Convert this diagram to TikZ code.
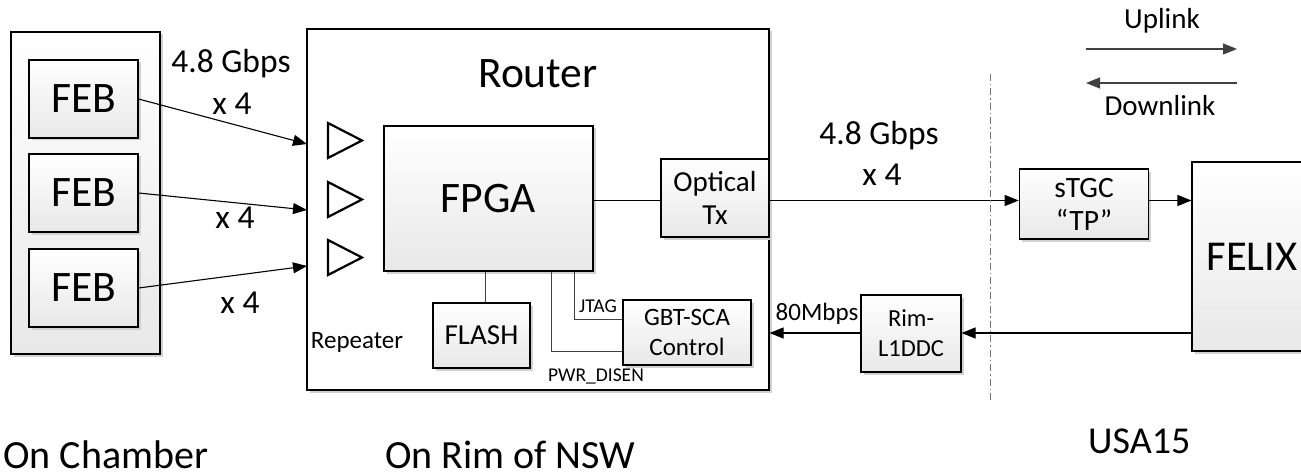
\documentclass[tikz,border=0pt]{standalone}
\usepackage{fontspec}
\setmainfont{Carlito}
\usetikzlibrary{arrows.meta,shadows}
\newcommand\fsz[2]{\fontsize{#1}{#2}\selectfont}
\begin{document}
\begin{tikzpicture}[x=1pt,y=-1pt,
  shad/.style={drop shadow={shadow xshift=2.5pt,shadow yshift=-2.5pt,fill=black!18,opacity=1}},
  blk/.style={draw=black,line width=1.1pt,top color=white,bottom color=black!9,shad,inner sep=0pt,align=center},
  plain/.style={draw=black,line width=1.1pt,fill=white,shad,inner sep=0pt},
  lbl/.style={inner sep=0pt,anchor=base},
  arr/.style={line width=1.1pt,-{Triangle[length=14pt,width=11pt]}},
  ln/.style={line width=1.1pt},
  thin/.style={line width=1pt,draw=black!75},
  divider/.style={line width=0.8pt,draw=black!55,dash pattern=on 7pt off 3pt on 1.5pt off 3pt},
  buf/.style={line width=2.2pt,line join=miter}
]
\useasboundingbox (0,0) rectangle (1301,476);

% chamber
\node[blk,minimum width=149pt,minimum height=322pt] (chamber) at (85.5,193) {};
\node[blk,minimum width=109pt,minimum height=78pt,font=\fsz{43.5}{52}] (feb1) at (83.5,99) {FEB};
\node[blk,minimum width=109pt,minimum height=78pt,font=\fsz{43.5}{52}] (feb2) at (83.5,193) {FEB};
\node[blk,minimum width=109pt,minimum height=78pt,font=\fsz{43.5}{52}] (feb3) at (83.5,288) {FEB};

% router
\node[plain,minimum width=462pt,minimum height=361pt] (router) at (538,209.5) {};
\node[lbl,font=\fsz{43.5}{52}] (routerlbl) at (538,88) {Router};

% repeater buffers
\draw[buf] (328,123) -- (362,140.5) -- (328,158) -- cycle;
\draw[buf] (328,182) -- (362,199.5) -- (328,217) -- cycle;
\draw[buf] (328,240) -- (362,257.5) -- (328,275) -- cycle;

\node[blk,minimum width=209pt,minimum height=145pt,font=\fsz{43.5}{52}] (fpga) at (488.5,198.5) {FPGA};
\node[blk,minimum width=108pt,minimum height=78pt,font=\fsz{29}{33.5}] (optical) at (715,198) {Optical\\Tx};
\node[blk,minimum width=97pt,minimum height=65pt,font=\fsz{29}{33.5}] (flash) at (481.5,335.5) {FLASH};
\node[blk,minimum width=128pt,minimum height=65pt,font=\fsz{25}{30}] (gbt) at (687,332.5) {GBT-SCA\\Control};

% right side
\node[blk,minimum width=129.5pt,minimum height=70pt,font=\fsz{29.5}{33}] (stgc) at (1084,204) {sTGC\\“TP”};
\node[blk,minimum width=120pt,minimum height=189pt,font=\fsz{42.5}{50}] (felix) at (1252,256.5) {FELIX};
\node[blk,minimum width=100pt,minimum height=77pt,font=\fsz{24.5}{30}] (rim) at (911,333.5) {Rim-\\L1DDC};

% coordinates
\coordinate (r1) at (307,144);
\coordinate (r2) at (307,210);
\coordinate (r3) at (307,266);
\coordinate (uy) at (0,200.5);
\coordinate (dy) at (0,333);
\coordinate (fx) at (485,0);
\coordinate (jt) at (574,319);
\coordinate (pw) at (551,351);
\coordinate (dv1) at (990.5,74);
\coordinate (dv2) at (990.5,403);
\coordinate (ul1) at (1086,49);
\coordinate (ul2) at (1237,49);
\coordinate (dl1) at (1237,83);
\coordinate (dl2) at (1086,83);

% connectors
\draw[arr] (feb1.east) -- (r1);
\draw[arr] (feb2.east) -- (r2);
\draw[arr] (feb3.east) -- (r3);
\draw[ln] (fpga.east |- uy) -- (optical.west |- uy);
\draw[arr] (optical.east |- uy) -- (stgc.west |- uy);
\draw[arr] (stgc.east |- uy) -- (felix.west |- uy);
\draw[arr] (felix.west |- dy) -- (rim.east |- dy);
\draw[arr] (rim.west |- dy) -- (router.east |- dy);
\draw[thin] (fpga.south -| fx) -- (flash.north -| fx);
\draw[thin] (fpga.south -| jt) |- (gbt.west |- jt);
\draw[thin] (fpga.south -| pw) |- (gbt.west |- pw);
\draw[divider] (dv1) -- (dv2);
\draw[arr,draw=black!75,fill=black] (ul1) -- (ul2);
\draw[arr,draw=black!75,fill=black] (dl1) -- (dl2);

% labels
\node[lbl,font=\fsz{33.5}{40}] (g1) at (231,73) {4.8 Gbps};
\node[lbl,font=\fsz{33.5}{40}] (x1) at (232,115) {x 4};
\node[lbl,font=\fsz{33.5}{40}] (x2) at (235,228) {x 4};
\node[lbl,font=\fsz{33.5}{40}] (x3) at (240,313) {x 4};
\node[lbl,font=\fsz{33.5}{40}] (g2) at (879,145) {4.8 Gbps};
\node[lbl,font=\fsz{33.5}{40}] (x5) at (882,185) {x 4};
\node[lbl,font=\fsz{25}{30}] (mb) at (817,320) {80Mbps};
\node[lbl,font=\fsz{19.5}{23}] (jtag) at (598,312) {JTAG};
\node[lbl,font=\fsz{19.5}{23}] (pwr) at (596,381) {PWR\_DISEN};
\node[lbl,font=\fsz{25}{30}] (rep) at (357,348) {Repeater};
\node[lbl,font=\fsz{29}{34}] (upl) at (1162,29) {Uplink};
\node[lbl,font=\fsz{29}{34}] (dnl) at (1160,116) {Downlink};
\node[lbl,anchor=base west,font=\fsz{40}{46}] (onch) at (3,468) {On Chamber};
\node[lbl,anchor=base west,font=\fsz{40}{46}] (onrim) at (385,468) {On Rim of NSW};
\node[lbl,anchor=base west,font=\fsz{38}{44}] (usa) at (1088,453) {USA15};
\end{tikzpicture}
\end{document}
